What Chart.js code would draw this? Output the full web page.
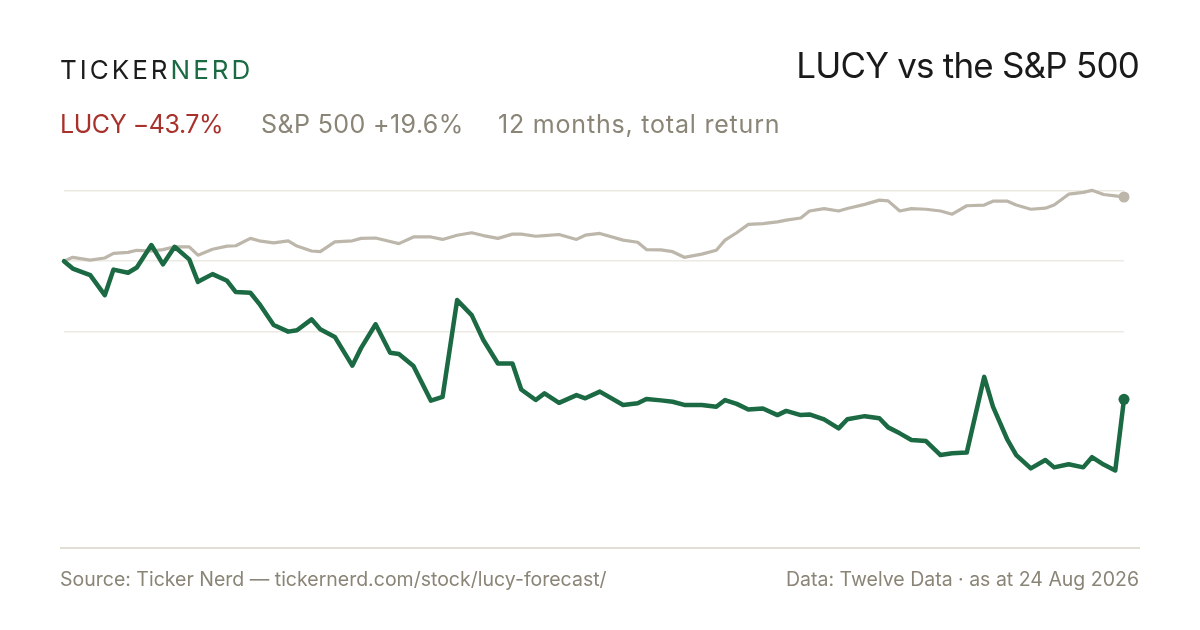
<!DOCTYPE html>
<html>
<head>
<meta charset="utf-8">
<script src="https://cdn.jsdelivr.net/npm/chart.js@4.4.1/dist/chart.umd.min.js"></script>
<style>
  html, body { margin: 0; padding: 0; background: #ffffff; }
  #wrap { position: relative; width: 1200px; height: 630px; overflow: hidden; font-family: Inter, "Liberation Sans", sans-serif; background:#fff; }
  #c { position: absolute; left: 0; top: 0; }
  .t { position: absolute; white-space: nowrap; line-height: 1; }
  #logo { left: 60px; top: 57px; font-size: 26px; letter-spacing: 3px; color: #1c1c1c; }
  #logo span { color: #1b6a43; }
  #title { right: 61px; top: 48px; font-size: 35px; color: #1a1a1a; letter-spacing: -0.8px; }
  .sub { top: 112px; font-size: 25px; color: #8a8577; }
  #s1 { left: 60px; color: #a8322b; letter-spacing: -0.45px; }
  #s2 { left: 261px; letter-spacing: 0.4px; }
  #s3 { left: 498px; letter-spacing: 0.8px; }
  #rule { position: absolute; left: 60px; top: 547px; width: 1080px; height: 2px; background: #e2ded5; }
  .src { top: 570px; font-size: 19.5px; color: #8a8577; }
  #srcL { left: 60px; }
  #srcR { right: 61px; }
</style>
</head>
<body>
<div id="wrap">
  <canvas id="c" width="1200" height="630"></canvas>
  <div class="t" id="logo">TICKER<span>NERD</span></div>
  <div class="t" id="title">LUCY vs the S&amp;P 500</div>
  <div class="t sub" id="s1">LUCY −43.7%</div>
  <div class="t sub" id="s2">S&amp;P 500 +19.6%</div>
  <div class="t sub" id="s3">12 months, total return</div>
  <div id="rule"></div>
  <div class="t src" id="srcL">Source: Ticker Nerd — tickernerd.com/stock/lucy-forecast/</div>
  <div class="t src" id="srcR">Data: Twelve Data · as at 24 Aug 2026</div>
</div>
<script>
// Calendar-day offsets of each observation (every 3rd trading day over 12 months)
const days = [0, 3, 9, 14, 17, 22, 25, 30, 34, 38, 43, 46, 51, 56, 59, 64, 67, 72, 77, 80, 85, 88, 93, 99, 102, 107, 112, 115, 120, 126, 130, 135, 140, 144, 149, 154, 157, 162, 165, 170, 176, 179, 184, 192, 197, 200, 205, 209, 213, 219, 224, 227, 231, 235, 240, 245, 248, 253, 256, 261, 266, 269, 275, 280, 283, 287, 291, 296, 301, 305, 310, 316, 319, 324, 327, 332, 337, 340, 345, 350, 353, 357, 361, 364];

// Cumulative return, % (LUCY)
const lucy = [0, -2.1, -4.0, -9.7, -2.4, -3.3, -1.8, 4.6, -0.9, 4.1, 0.5, -5.9, -3.7, -5.6, -8.8, -9.0, -12.1, -18.2, -20.1, -19.7, -16.6, -19.4, -21.6, -29.8, -24.8, -18.0, -26.1, -26.5, -29.9, -39.8, -38.7, -11.1, -15.4, -22.5, -29.2, -29.2, -36.6, -39.6, -37.7, -40.4, -38.2, -39.1, -37.2, -41.0, -40.5, -39.3, -39.7, -40.1, -41.0, -41.0, -41.5, -39.6, -40.7, -42.3, -42.0, -43.9, -42.7, -43.9, -43.7, -45.1, -47.7, -45.1, -44.2, -44.8, -47.4, -49.1, -51.0, -51.3, -55.3, -54.8, -54.6, -33.0, -41.5, -51.0, -55.3, -59.1, -56.7, -58.8, -57.9, -58.8, -55.9, -58.0, -59.7, -39.4];

// Cumulative return, % (S&P 500)
const spx = [0, 1.1, 0.3, 0.9, 2.2, 2.5, 3.1, 2.9, 3.3, 4.1, 4.1, 1.7, 3.4, 4.3, 4.4, 6.5, 5.8, 5.2, 5.8, 4.3, 2.9, 2.7, 5.5, 5.8, 6.5, 6.6, 5.6, 5.0, 6.9, 6.9, 6.2, 7.4, 8.1, 7.3, 6.5, 7.7, 7.7, 7.1, 7.3, 7.6, 6.2, 7.4, 7.9, 6.0, 5.4, 3.3, 3.2, 2.7, 1.1, 2.0, 3.1, 6.0, 8.1, 10.5, 10.7, 11.2, 11.7, 12.3, 14.3, 15.0, 14.3, 15.0, 16.2, 17.4, 17.2, 14.3, 15.0, 14.8, 14.3, 13.4, 15.8, 16.0, 17.1, 17.1, 16.0, 14.8, 15.1, 16.0, 19.1, 19.6, 20.2, 19.0, 18.6, 18.3];

const gridTicks = [-20, 0, 20];

const lastIdx = days.length - 1;
const toPts = arr => days.map((d, i) => ({ x: d, y: arr[i] }));
const endDot = c => (c.dataIndex === lastIdx ? 5.5 : 0);

new Chart(document.getElementById('c').getContext('2d'), {
  type: 'line',
  data: {
    datasets: [
      {
        label: 'LUCY',
        data: toPts(lucy),
        borderColor: '#1b6a43',
        backgroundColor: '#1b6a43',
        borderWidth: 4.5,
        borderJoinStyle: 'round',
        borderCapStyle: 'round',
        tension: 0,
        clip: false,
        pointRadius: endDot,
        pointHoverRadius: 0,
        pointBorderWidth: 0,
        pointBackgroundColor: '#1b6a43',
        fill: false
      },
      {
        label: 'S&P 500',
        data: toPts(spx),
        borderColor: '#bdb6aa',
        backgroundColor: '#bdb6aa',
        borderWidth: 3.2,
        borderJoinStyle: 'round',
        borderCapStyle: 'round',
        tension: 0,
        clip: false,
        pointRadius: endDot,
        pointHoverRadius: 0,
        pointBorderWidth: 0,
        pointBackgroundColor: '#bdb6aa',
        fill: false
      }
    ]
  },
  options: {
    responsive: false,
    animation: false,
    events: [],
    layout: { padding: { left: 64, right: 76, top: 177, bottom: 82 } },
    plugins: { legend: { display: false }, tooltip: { enabled: false } },
    scales: {
      x: { type: 'linear', min: days[0], max: days[lastIdx], display: false },
      y: {
        min: -81.8,
        max: 24,
        afterBuildTicks: s => { s.ticks = gridTicks.map(v => ({ value: v })); },
        ticks: { display: false },
        grid: { color: '#ece9e3', lineWidth: 1.5, drawTicks: false },
        border: { display: false }
      }
    }
  }
});
</script>
</body>
</html>
